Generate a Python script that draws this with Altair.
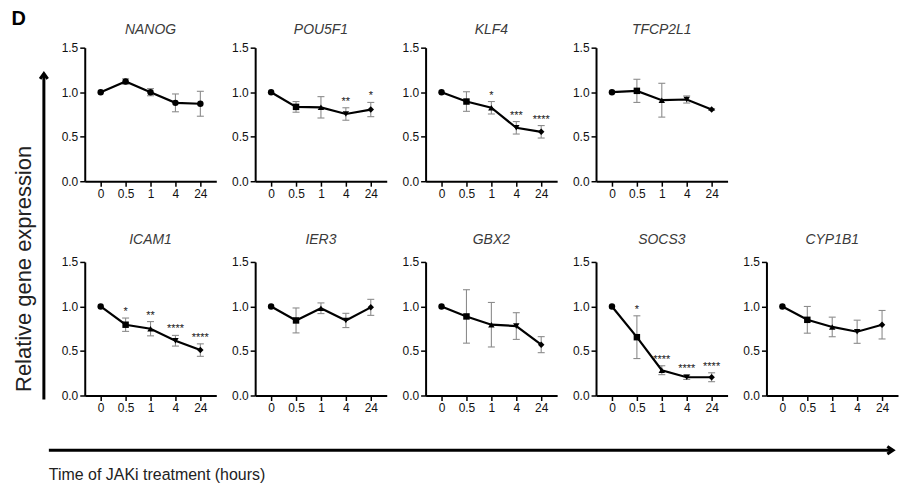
import altair as alt
import pandas as pd

times = ["0", "0.5", "1", "4", "24"]
genes = ["NANOG", "POU5F1", "KLF4", "TFCP2L1", "ICAM1", "IER3", "GBX2", "SOCS3", "CYP1B1"]

means = {
    "NANOG":   [1.0, 1.12, 1.0, 0.88, 0.87],
    "POU5F1":  [1.0, 0.835, 0.83, 0.755, 0.805],
    "KLF4":    [1.0, 0.895, 0.825, 0.60, 0.555],
    "TFCP2L1": [1.0, 1.015, 0.91, 0.918, 0.805],
    "ICAM1":   [1.0, 0.795, 0.75, 0.615, 0.51],
    "IER3":    [1.0, 0.843, 0.98, 0.843, 0.99],
    "GBX2":    [1.0, 0.888, 0.795, 0.78, 0.571],
    "SOCS3":   [1.0, 0.655, 0.284, 0.205, 0.205],
    "CYP1B1":  [1.0, 0.85, 0.77, 0.716, 0.795],
}
errors = {
    "NANOG":   [0.0, 0.03, 0.04, 0.10, 0.14],
    "POU5F1":  [0.0, 0.06, 0.12, 0.07, 0.08],
    "KLF4":    [0.0, 0.11, 0.07, 0.07, 0.07],
    "TFCP2L1": [0.0, 0.13, 0.19, 0.04, 0.01],
    "ICAM1":   [0.0, 0.075, 0.08, 0.06, 0.07],
    "IER3":    [0.0, 0.14, 0.06, 0.08, 0.09],
    "GBX2":    [0.0, 0.30, 0.25, 0.15, 0.09],
    "SOCS3":   [0.0, 0.24, 0.05, 0.025, 0.05],
    "CYP1B1":  [0.0, 0.15, 0.11, 0.13, 0.16],
}
stars = {
    "POU5F1": ["", "", "", "**", "*"],
    "KLF4":   ["", "", "*", "***", "****"],
    "ICAM1":  ["", "*", "**", "****", "****"],
    "SOCS3":  ["", "*", "****", "****", "****"],
}
marker_shapes = ["circle", "square", "triangle-up", "triangle-down", "diamond"]

y_label = "Relative gene expression"
x_label = "Time of JAKi treatment (hours)"
panel_letter = "D"

FONT = "Liberation Sans, Arial, sans-serif"
W, H = 132, 134
GRAY = "#8c8c8c"

one = pd.DataFrame({"a": [0]})


def panel(g, title_y, extras=()):
    df = pd.DataFrame({
        "time": times,
        "mean": means[g],
        "err": errors[g],
        "stars": stars.get(g, [""] * 5),
        "shape": ["circle"] * 5 if g == "NANOG" else marker_shapes,
    })
    df["lo"] = df["mean"] - df["err"]
    df["hi"] = df["mean"] + df["err"]
    base = alt.Chart(df)
    x = alt.X("time:N", sort=times, title=None,
              scale=alt.Scale(type="point", padding=0.64),
              axis=alt.Axis(labelAngle=0, labelFontSize=12, labelPadding=2))
    yscale = alt.Scale(domain=[0, 1.5], nice=False)
    y = alt.Y("mean:Q", title=None, scale=yscale,
              axis=alt.Axis(values=[0, 0.5, 1.0, 1.5], format=".1f",
                            labelFontSize=12, labelPadding=2))
    bars = base.transform_filter("datum.err > 0").mark_rule(
        color=GRAY, strokeWidth=1.1).encode(
        x=x, y=alt.Y("lo:Q", scale=yscale), y2="hi:Q")
    cap_lo = base.transform_filter("datum.err > 0").mark_tick(
        color=GRAY, thickness=1.1, size=7, opacity=1).encode(
        x=x, y=alt.Y("lo:Q", scale=yscale))
    cap_hi = base.transform_filter("datum.err > 0").mark_tick(
        color=GRAY, thickness=1.1, size=7, opacity=1).encode(
        x=x, y=alt.Y("hi:Q", scale=yscale))
    line = base.mark_line(color="black", strokeWidth=2.2).encode(x=x, y=y)
    pts = base.mark_point(filled=True, color="black", size=42, opacity=1).encode(
        x=x, y=y, shape=alt.Shape("shape:N", scale=None))
    txt = base.mark_text(baseline="bottom", dy=-1, fontSize=11, font=FONT,
                         color="#222").encode(
        x=x, y=alt.Y("hi:Q", scale=yscale), text="stars:N")
    title = alt.Chart(one).mark_text(
        text=g, fontSize=14, fontStyle="italic", font=FONT, color="#3a3a3a",
        align="center", baseline="middle").encode(
        x=alt.value(W / 2), y=alt.value(title_y))
    layers = [bars, cap_lo, cap_hi, line, pts, txt, title] + list(extras)
    return alt.layer(*layers).properties(width=W, height=H)


letter = alt.Chart(one).mark_text(
    text=panel_letter, fontSize=20, fontWeight="bold", font=FONT,
    align="left", baseline="top", color="black").encode(
    x=alt.value(-73.4), y=alt.value(-38.5))

v_shaft = alt.Chart(one).mark_rule(color="black", strokeWidth=3).encode(
    x=alt.value(-41), y=alt.value(-188), y2=alt.value(138))
v_head = alt.Chart(one).mark_point(
    shape="M -0.8 1.1 L 0 0 L 0.8 1.1", filled=False, color="black",
    strokeWidth=3, size=90, opacity=1, strokeJoin="miter").encode(
    x=alt.value(-41), y=alt.value(-189))
v_text = alt.Chart(one).mark_text(
    text=y_label, angle=270, fontSize=22, font=FONT, color="#222",
    align="center", baseline="middle").encode(
    x=alt.value(-61), y=alt.value(7))
h_shaft = alt.Chart(one).mark_rule(color="black", strokeWidth=3).encode(
    x=alt.value(-36), x2=alt.value(810), y=alt.value(189))
h_head = alt.Chart(one).mark_point(
    shape="M -1.2 -0.8 L 0 0 L -1.2 0.8", filled=False, color="black",
    strokeWidth=3, size=90, opacity=1, strokeJoin="miter").encode(
    x=alt.value(811), y=alt.value(189))
h_text = alt.Chart(one).mark_text(
    text=x_label, fontSize=16, font=FONT, color="#222",
    align="left", baseline="middle").encode(
    x=alt.value(-36), y=alt.value(214))

blank = alt.Chart(one).mark_point(opacity=0).encode(
    x=alt.X("a:Q", axis=None), y=alt.Y("a:Q", axis=None)).properties(width=W, height=H)

T1, T2 = -18.2, -22.2
cells = [
    panel("NANOG", T1, [letter]),
    panel("POU5F1", T1),
    panel("KLF4", T1),
    panel("TFCP2L1", T1),
    blank,
    panel("ICAM1", T2, [v_shaft, v_head, v_text, h_shaft, h_head, h_text]),
    panel("IER3", T2),
    panel("GBX2", T2),
    panel("SOCS3", T2),
    panel("CYP1B1", T2),
]

chart = alt.concat(*cells, columns=5, spacing={"row": 81, "column": 39},
                   bounds="flush").properties(
    padding={"left": 3, "top": 0, "right": 0, "bottom": 0},
    background="white",
).configure_view(stroke=None).configure_axis(
    grid=False, domainColor="black", domainWidth=2, tickColor="black",
    tickWidth=1.5, tickSize=5, labelColor="#111", labelFont=FONT,
)

chart.save("out.html", embed_options={"renderer": "svg", "actions": False})
